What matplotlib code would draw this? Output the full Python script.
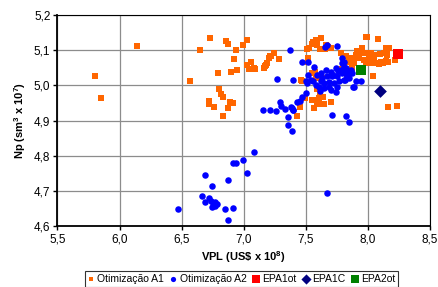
import matplotlib
matplotlib.use("Agg")
import matplotlib.pyplot as plt
from matplotlib.ticker import FuncFormatter

plt.rcParams['font.family'] = ['Liberation Sans', 'DejaVu Sans']
plt.rcParams['mathtext.fontset'] = 'custom'
plt.rcParams['mathtext.bf'] = 'Liberation Sans:bold'
plt.rcParams['mathtext.rm'] = 'Liberation Sans'

# Otimização A1 (orange squares)
a1_x = [5.80, 5.85, 6.14, 6.57, 6.645, 6.726, 6.79, 6.72, 6.72, 6.76,
        6.80, 6.82, 6.83, 6.855, 6.87, 6.99, 7.03, 6.94, 6.92, 7.06,
        7.03, 7.04, 7.09, 6.946, 6.895, 6.89, 6.91, 6.83, 6.877, 7.16,
        7.19, 7.18, 7.215, 7.24, 7.28, 7.43, 7.45, 7.49, 7.46, 7.51,
        7.546, 7.56, 7.58, 7.59, 7.62, 7.61, 7.65, 7.55, 7.57, 7.585,
        7.59, 7.61, 7.63, 7.55, 7.59, 7.565, 7.61, 7.70, 7.78, 7.80,
        7.82, 7.98, 7.99, 8.08, 8.05, 8.09, 8.12, 8.15, 8.16, 8.145,
        8.17, 8.15, 8.04, 8.16, 8.23, 8.22, 7.52, 7.52, 7.70, 7.66,
        7.68, 7.955, 7.915, 7.902, 7.941, 7.981, 8.022, 8.008, 7.968, 7.927,
        7.887, 7.861, 7.847, 7.887, 8.048, 8.097, 8.129, 8.156, 8.103, 8.062,
        8.022, 7.981, 8.143, 7.794, 7.82, 7.834, 7.874, 7.828, 7.626, 7.634,
        7.242, 7.221, 7.205, 7.189, 7.175, 7.086, 7.062, 7.471, 7.484, 7.452,
        7.565, 7.646, 7.578, 7.605, 7.525, 7.619, 7.592]
a1_y = [5.027, 4.964, 5.111, 5.013, 5.101, 5.134, 5.035, 4.956, 4.947, 4.939,
        4.990, 4.975, 4.967, 5.126, 5.116, 5.115, 5.128, 5.101, 5.074, 5.065,
        5.058, 5.047, 5.047, 5.044, 5.037, 4.953, 4.950, 4.912, 4.935, 5.049,
        5.063, 5.058, 5.082, 5.092, 5.074, 4.912, 4.939, 4.965, 5.014, 5.103,
        5.117, 5.123, 5.128, 5.123, 5.134, 5.103, 5.103, 5.034, 5.039, 5.022,
        4.989, 4.976, 4.966, 4.959, 4.952, 4.936, 4.947, 4.953, 5.091, 5.082,
        5.082, 5.138, 5.137, 5.131, 5.072, 5.061, 5.063, 5.066, 5.065, 5.107,
        5.105, 5.094, 5.027, 4.937, 4.942, 5.072, 5.077, 5.067, 5.105, 5.113,
        5.108, 5.105, 5.096, 5.086, 5.091, 5.091, 5.091, 5.077, 5.072, 5.077,
        5.072, 5.077, 5.067, 5.063, 5.086, 5.089, 5.091, 5.086, 5.067, 5.063,
        5.063, 5.063, 5.070, 5.046, 5.039, 5.025, 5.049, 5.041, 5.022, 4.968,
        5.093, 5.084, 5.077, 5.063, 5.055, 5.049, 5.047, 5.011, 4.963, 4.939,
        4.935, 4.947, 4.957, 4.963, 5.105, 5.134, 5.115]

# Otimização A2 (blue circles)
a2_x = [6.468, 6.66, 6.686, 6.745, 6.69, 6.72, 6.74, 6.755, 6.77, 6.745,
        6.765, 6.785, 6.87, 6.85, 6.917, 6.87, 6.91, 6.94, 6.99, 7.03,
        7.08, 7.67, 7.155, 7.215, 7.256, 7.29, 7.30, 7.33, 7.38, 7.40,
        7.355, 7.355, 7.385, 7.45, 7.47, 7.71, 7.825, 7.85, 7.37, 7.465,
        7.27, 7.40, 7.51, 7.673, 7.654, 7.753, 7.519, 7.565, 7.794, 7.806,
        7.516, 7.543, 7.56, 7.498, 7.66, 7.70, 7.74, 7.78, 7.806, 7.82,
        7.834, 7.847, 7.753, 7.713, 7.673, 7.632, 7.619, 7.646, 7.605, 7.646,
        7.686, 7.726, 7.753, 7.74, 7.70, 7.766, 7.806, 7.613, 7.498, 7.43,
        7.39, 7.398, 7.794, 7.82, 7.794, 7.834, 7.812, 7.847, 7.874, 7.902,
        7.887, 7.941, 7.861, 7.882, 7.58, 7.59, 7.62, 7.69, 7.72, 7.76]
a2_y = [4.648, 4.686, 4.746, 4.714, 4.669, 4.679, 4.672, 4.665, 4.668, 4.655,
        4.658, 4.663, 4.731, 4.648, 4.653, 4.617, 4.780, 4.780, 4.787, 4.750,
        4.810, 4.695, 4.930, 4.930, 4.927, 4.954, 4.940, 4.933, 4.937, 4.930,
        4.911, 4.886, 4.870, 4.956, 4.968, 4.916, 4.914, 4.895, 5.101, 5.065,
        5.018, 5.015, 5.006, 5.115, 5.110, 5.112, 5.067, 5.053, 5.077, 5.067,
        5.028, 5.015, 5.011, 5.013, 5.044, 5.039, 5.049, 5.044, 5.053, 5.034,
        5.025, 5.039, 5.025, 5.025, 5.025, 5.020, 5.011, 5.006, 4.996, 4.992,
        4.996, 5.006, 4.996, 4.982, 4.987, 5.011, 5.015, 4.985, 4.979, 4.954,
        4.935, 4.930, 5.063, 5.049, 5.034, 5.030, 5.015, 5.020, 5.034, 5.011,
        4.996, 5.011, 5.044, 4.995, 5.000, 5.030, 5.035, 5.010, 5.030, 5.040]

# single reference points
epa1ot = (8.245, 5.088)
epa1c = (8.10, 4.985)
epa2ot = (7.947, 5.044)

x_ticks = [5.5, 6.0, 6.5, 7.0, 7.5, 8.0, 8.5]
y_ticks = [4.6, 4.7, 4.8, 4.9, 5.0, 5.1, 5.2]

fig = plt.figure(figsize=(4.38, 2.87), dpi=100)
ax = fig.add_axes([0.131, 0.2115, 0.851, 0.737])

ax.scatter(a1_x, a1_y, marker='s', s=17, color='#FF6600', linewidths=0,
           label='Otimização A1', zorder=3)
ax.scatter(a2_x, a2_y, marker='o', s=22, color='#0000FF', linewidths=0,
           label='Otimização A2', zorder=4)
ax.scatter([epa1ot[0]], [epa1ot[1]], marker='s', s=62, color='#FF0000',
           linewidths=0, label='EPA1ot', zorder=5)
ax.scatter([epa1c[0]], [epa1c[1]], marker='D', s=42, color='#000080',
           linewidths=0, label='EPA1C', zorder=5)
ax.scatter([epa2ot[0]], [epa2ot[1]], marker='s', s=62, color='#008000',
           linewidths=0, label='EPA2ot', zorder=5)

ax.set_xlim(5.5, 8.5)
ax.set_ylim(4.6, 5.2)
ax.set_xticks(x_ticks)
ax.set_yticks(y_ticks)
comma = FuncFormatter(lambda v, p: f"{v:.1f}".replace('.', ','))
ax.xaxis.set_major_formatter(comma)
ax.yaxis.set_major_formatter(comma)
ax.tick_params(labelsize=8.5, length=3, width=1, direction='out', pad=2)
ax.grid(True, color='#8c8c8c', linewidth=0.9)
ax.set_axisbelow(True)
for sp in ax.spines.values():
    sp.set_color('black')
    sp.set_linewidth(0.8)
ax.spines['left'].set_linewidth(1.3)
ax.spines['bottom'].set_linewidth(1.3)

ax.set_xlabel(r"VPL (US\$ x 10$^{\mathbf{8}}$)", fontsize=8, fontweight='bold', labelpad=3)
ax.set_ylabel(r"Np (sm$^{\mathbf{3}}$ x 10$^{\mathbf{7}}$)", fontsize=8, fontweight='bold', labelpad=4)

leg = fig.legend(loc='center', bbox_to_anchor=(0.551, 0.028), ncol=5, fontsize=7.5,
                 frameon=True, fancybox=False, edgecolor='black', handlelength=0.6,
                 handletextpad=0.3, columnspacing=0.6, borderpad=0.25,
                 markerscale=0.8)
leg.get_frame().set_linewidth(0.8)

fig.savefig("out.png", dpi=100)
